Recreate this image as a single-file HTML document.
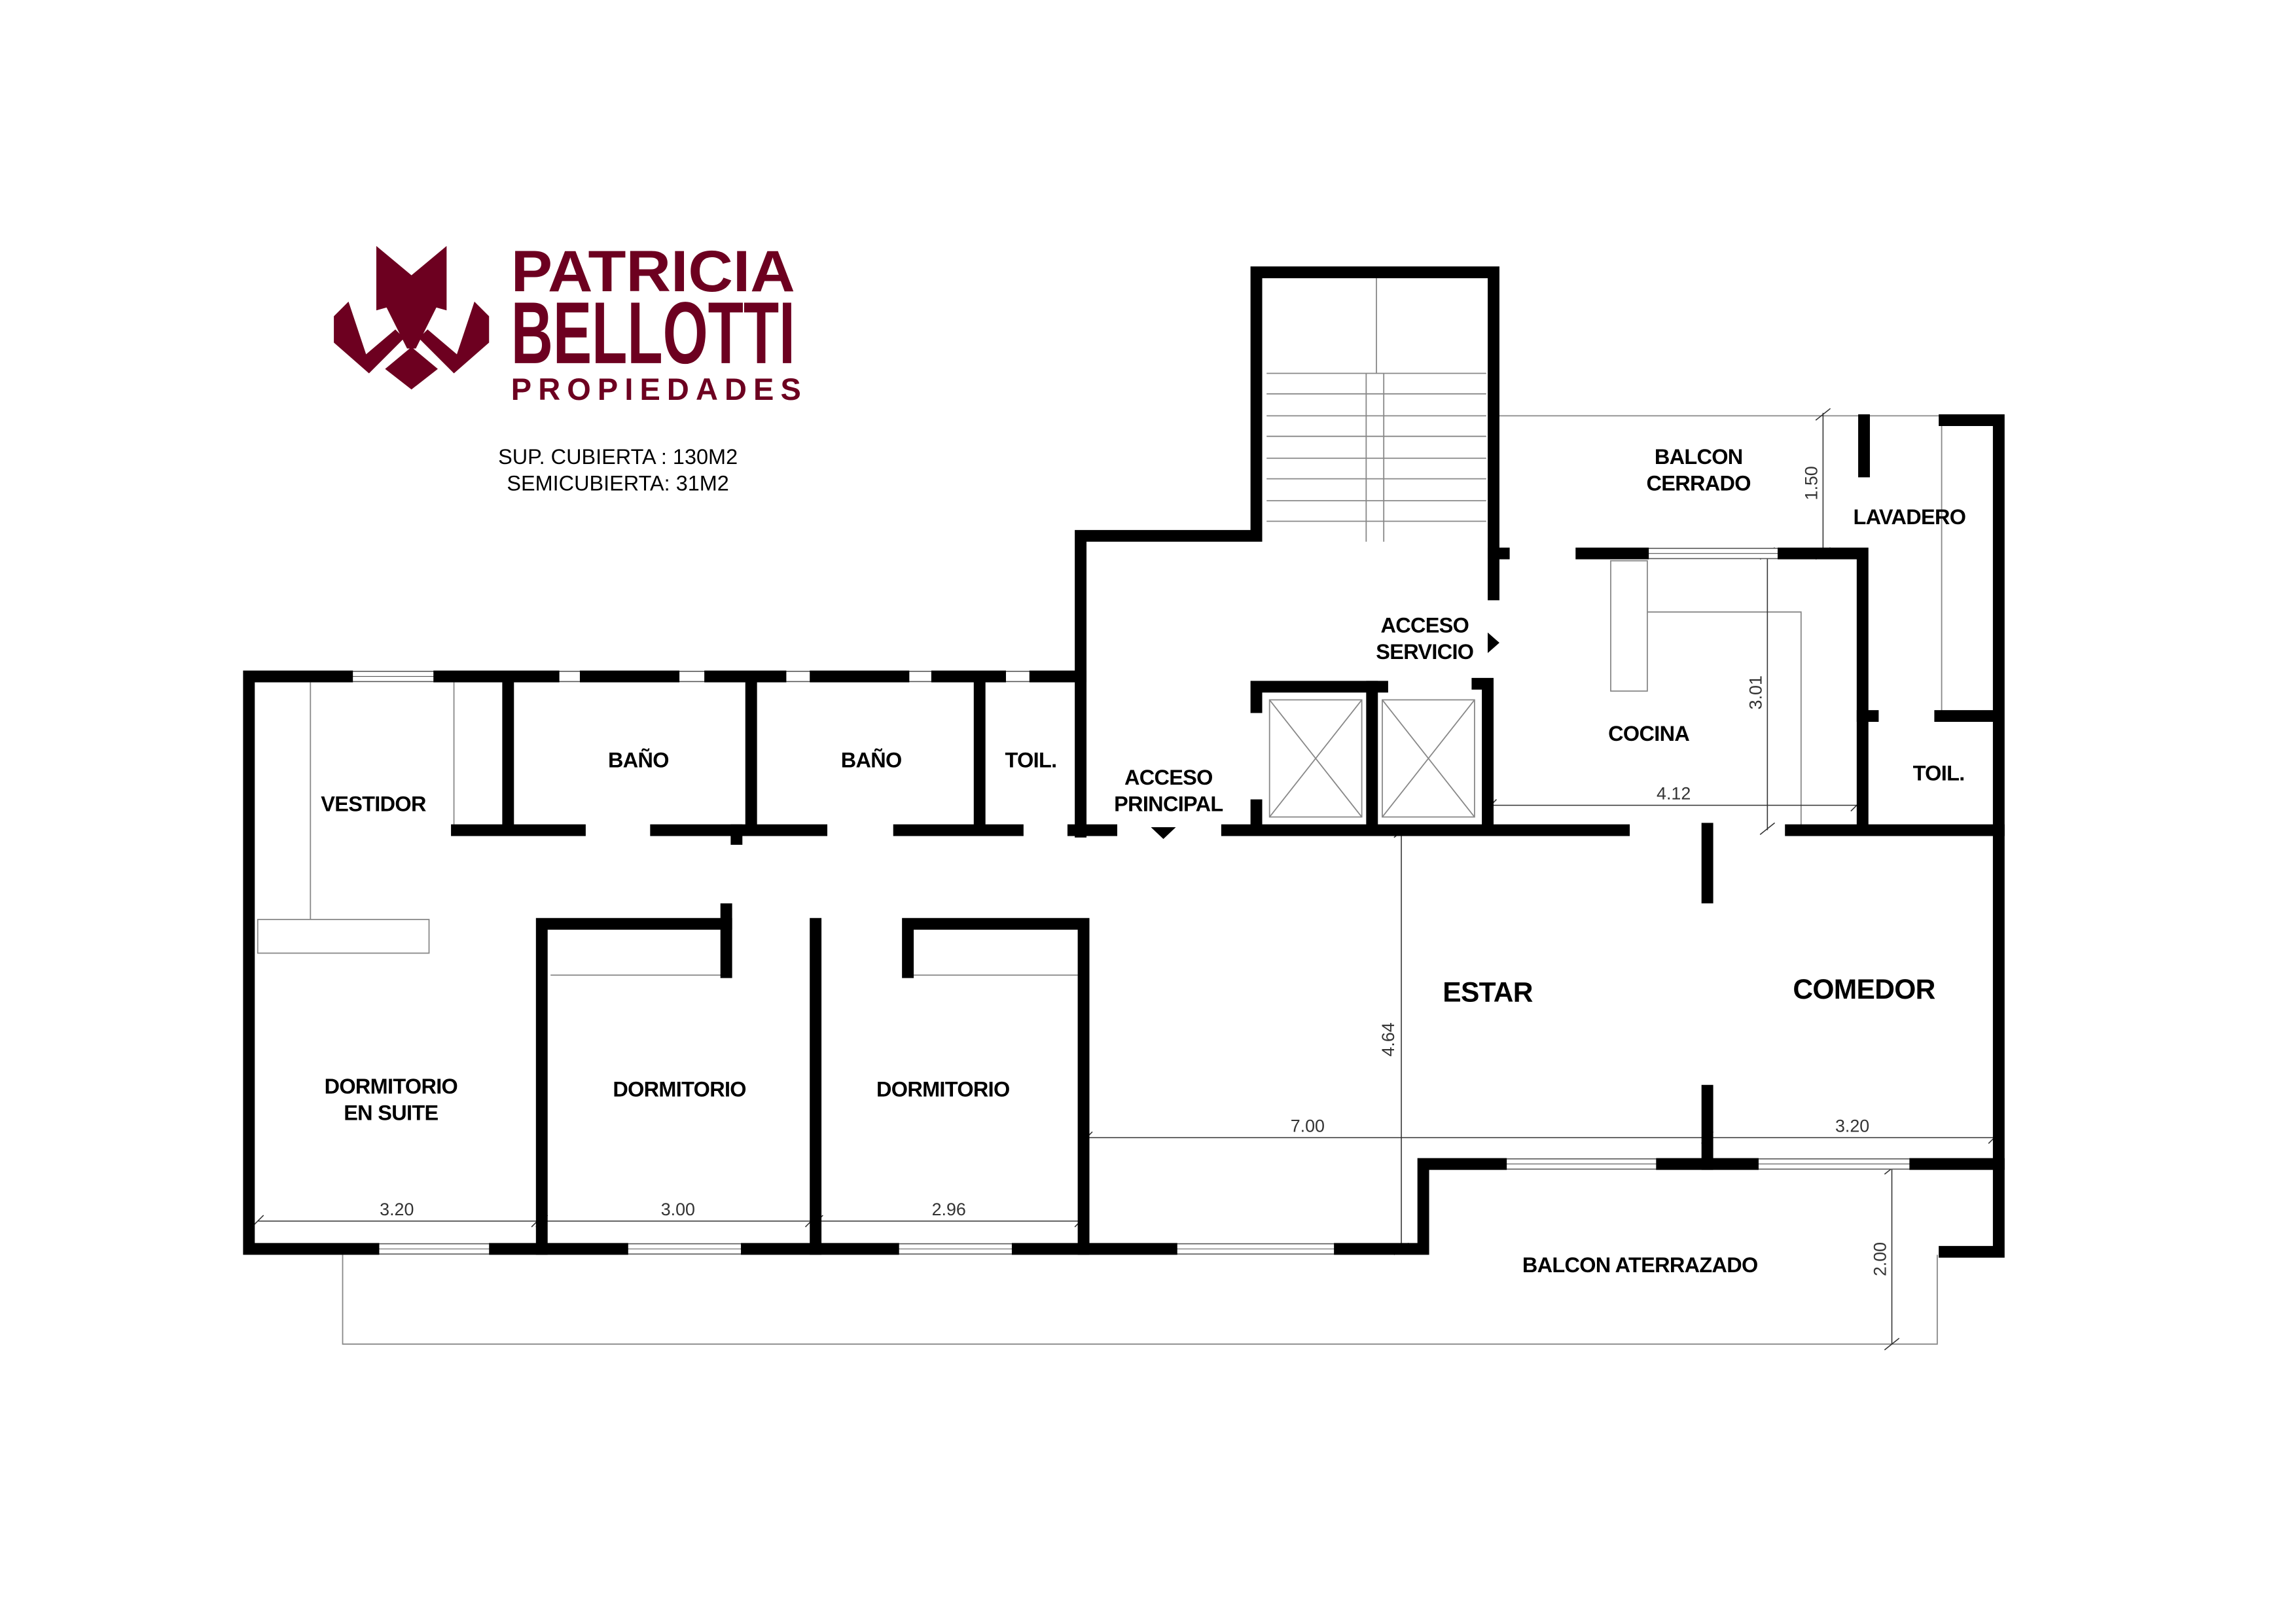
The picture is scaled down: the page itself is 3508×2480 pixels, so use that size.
<!DOCTYPE html>
<html><head><meta charset="utf-8"><style>
html,body{margin:0;padding:0;background:#fff;}
svg{display:block;}
text{font-family:"Liberation Sans","DejaVu Sans",sans-serif;}
</style></head><body>
<svg width="3508" height="2480" viewBox="0 0 1568 1108.5" xmlns="http://www.w3.org/2000/svg">
<rect x="0" y="0" width="1568" height="1108.5" fill="#fff"/>
<!-- LOGO -->
<g fill="#6d0020">
<path d="M257,168 L281,188 L305,168 L305,212 L298,210 L284,238 L278,238 L264,210 L257,212 Z"/>
<path d="M238,206 L250,242 L270,225 L276,231 L252,255 L228,234 L228,216 Z"/>
<path d="M324,206 L312,242 L292,225 L286,231 L310,255 L334,234 L334,216 Z"/>
<path d="M281,237 L299,252 L281,266 L263,252 Z"/>
<text x="349" y="199" font-size="40" font-weight="bold" textLength="194" lengthAdjust="spacingAndGlyphs">PATRICIA</text>
<text x="349" y="248" font-size="60" font-weight="bold" textLength="194" lengthAdjust="spacingAndGlyphs">BELLOTTI</text>
<text x="349" y="273" font-size="21" font-weight="bold" textLength="198" lengthAdjust="spacing">PROPIEDADES</text>
</g>
<g font-size="14.5" text-anchor="middle" fill="#000">
<text x="422" y="317">SUP. CUBIERTA : 130M2</text>
<text x="422" y="335">SEMICUBIERTA: 31M2</text>
</g>

<g stroke="#888" stroke-width="0.8" fill="none">
<line x1="940" y1="190" x2="940" y2="255"/>
<line x1="933" y1="255" x2="933" y2="370"/><line x1="945" y1="255" x2="945" y2="370"/>
<line x1="865" y1="255" x2="1015" y2="255"/>
<line x1="865" y1="269" x2="1015" y2="269"/><line x1="865" y1="284" x2="1015" y2="284"/>
<line x1="865" y1="298" x2="1015" y2="298"/><line x1="865" y1="313" x2="1015" y2="313"/>
<line x1="865" y1="327" x2="1015" y2="327"/><line x1="865" y1="342" x2="1015" y2="342"/>
<line x1="865" y1="356" x2="1015" y2="356"/>
<line x1="212" y1="466" x2="212" y2="628"/><line x1="310" y1="466" x2="310" y2="563"/>
<rect x="176" y="628" width="117" height="23"/>
<line x1="376" y1="666" x2="494" y2="666"/><line x1="624" y1="666" x2="736" y2="666"/>
<rect x="867" y="478" width="63" height="80"/><line x1="867" y1="478" x2="930" y2="558"/><line x1="930" y1="478" x2="867" y2="558"/>
<rect x="944" y="478" width="63" height="80"/><line x1="944" y1="478" x2="1007" y2="558"/><line x1="1007" y1="478" x2="944" y2="558"/>
<rect x="1100" y="383" width="25" height="89"/>
<polyline points="1125,418 1230,418 1230,565"/>
<line x1="1022" y1="284" x2="1330" y2="284"/>
<line x1="1326" y1="290" x2="1326" y2="487"/>
<polyline points="234,857 234,918 1323,918 1323,857"/>
</g>
<g stroke="#333" stroke-width="0.7" fill="none">
<line x1="1245" y1="282" x2="1245" y2="378"/><line x1="1240" y1="287" x2="1250" y2="279"/><line x1="1240" y1="382" x2="1250" y2="374"/>
<line x1="1207" y1="378" x2="1207" y2="567"/><line x1="1202" y1="382" x2="1212" y2="374"/><line x1="1202" y1="570" x2="1212" y2="562"/>
<line x1="1018" y1="550" x2="1270" y2="550"/><line x1="1014" y1="554" x2="1022" y2="546"/><line x1="1264" y1="554" x2="1272" y2="546"/>
<line x1="957" y1="568" x2="957" y2="853"/><line x1="952" y1="572" x2="962" y2="564"/><line x1="952" y1="857" x2="962" y2="849"/>
<line x1="742" y1="777" x2="1362" y2="777"/><line x1="738" y1="781" x2="746" y2="773"/><line x1="1162" y1="781" x2="1170" y2="773"/><line x1="1358" y1="781" x2="1366" y2="773"/>
<line x1="1292" y1="797" x2="1292" y2="918"/><line x1="1287" y1="802" x2="1297" y2="794"/><line x1="1287" y1="922" x2="1297" y2="914"/>
<line x1="176" y1="834" x2="738" y2="834"/>
<line x1="172" y1="838" x2="180" y2="830"/><line x1="363" y1="838" x2="371" y2="830"/><line x1="366" y1="838" x2="374" y2="830"/>
<line x1="550" y1="838" x2="558" y2="830"/><line x1="554" y1="838" x2="562" y2="830"/><line x1="734" y1="838" x2="742" y2="830"/>
</g>
<g font-size="12" fill="#333" text-anchor="middle">
<text x="271" y="830">3.20</text><text x="463" y="830">3.00</text><text x="648" y="830">2.96</text>
<text x="893" y="773">7.00</text><text x="1265" y="773">3.20</text><text x="1143" y="546">4.12</text>
<text transform="translate(1241,330) rotate(-90)">1.50</text>
<text transform="translate(1203,473) rotate(-90)">3.01</text>
<text transform="translate(952,710) rotate(-90)">4.64</text>
<text transform="translate(1288,860) rotate(-90)">2.00</text>
</g>

<g fill="#fff" stroke="#555" stroke-width="0.7">
<rect x="237" y="458.5" width="63" height="7"/><rect x="378" y="458.5" width="22" height="7"/>
<rect x="460" y="458.5" width="25" height="7"/><rect x="533" y="458.5" width="24" height="7"/>
<rect x="617" y="458.5" width="23" height="7"/><rect x="683" y="458.5" width="24" height="7"/>
<rect x="255" y="849.5" width="83" height="7"/><rect x="425" y="849.5" width="85" height="7"/>
<rect x="610" y="849.5" width="85" height="7"/><rect x="800" y="849.5" width="115" height="7"/>
<rect x="1025" y="791.5" width="110" height="7"/><rect x="1197" y="791.5" width="111" height="7"/>
<rect x="1122" y="374.5" width="96" height="7"/>
</g>
<g stroke="#555" stroke-width="0.5">
<line x1="237" y1="462" x2="300" y2="462"/><line x1="255" y1="853" x2="338" y2="853"/><line x1="425" y1="853" x2="510" y2="853"/>
<line x1="610" y1="853" x2="695" y2="853"/><line x1="800" y1="853" x2="915" y2="853"/><line x1="1025" y1="795" x2="1135" y2="795"/>
<line x1="1197" y1="795" x2="1308" y2="795"/><line x1="1122" y1="378" x2="1218" y2="378"/>
</g>

<g stroke="#000" stroke-width="8" stroke-linecap="square" fill="none">
<polyline points="738,568 738,366 858,366 858,186 1020,186 1020,406"/>
<line x1="1020" y1="378" x2="1027" y2="378"/>
<polyline points="237,462 170,462 170,853 255,853"/>
<line x1="300" y1="462" x2="378" y2="462"/><line x1="400" y1="462" x2="460" y2="462"/>
<line x1="485" y1="462" x2="533" y2="462"/><line x1="557" y1="462" x2="617" y2="462"/>
<line x1="640" y1="462" x2="683" y2="462"/><line x1="707" y1="462" x2="738" y2="462"/>
<line x1="347" y1="466" x2="347" y2="565"/><line x1="513" y1="466" x2="513" y2="565"/><line x1="669" y1="466" x2="669" y2="565"/>
<line x1="312" y1="567" x2="396" y2="567"/><line x1="448" y1="567" x2="561" y2="567"/><line x1="503" y1="567" x2="503" y2="573"/>
<line x1="614" y1="567" x2="695" y2="567"/><line x1="733" y1="567" x2="759" y2="567"/>
<line x1="838" y1="567" x2="1109" y2="567"/><line x1="1223" y1="567" x2="1365" y2="567"/>
<polyline points="370,853 370,631 496,631"/><line x1="496" y1="621" x2="496" y2="664"/>
<line x1="557" y1="631" x2="557" y2="853"/>
<polyline points="620,664 620,631 740,631 740,853"/>
<line x1="338" y1="853" x2="425" y2="853"/><line x1="510" y1="853" x2="610" y2="853"/>
<line x1="695" y1="853" x2="800" y2="853"/>
<polyline points="915,853 972,853 972,795 1025,795"/>
<line x1="1135" y1="795" x2="1197" y2="795"/><line x1="1308" y1="795" x2="1365" y2="795"/>
<polyline points="1328,855 1365,855 1365,287 1328,287"/>
<line x1="1166" y1="745" x2="1166" y2="795"/><line x1="1166" y1="566" x2="1166" y2="613"/>
<polyline points="858,483 858,469 944,469"/><line x1="858" y1="550" x2="858" y2="567"/>
<line x1="937" y1="469" x2="937" y2="567"/>
<polyline points="1009,467 1016,467 1016,567"/>
<line x1="1080" y1="378" x2="1122" y2="378"/>
<polyline points="1218,378 1272,378 1272,567"/>
<line x1="1272" y1="489" x2="1279" y2="489"/>
<line x1="1273" y1="287" x2="1273" y2="322"/>
<line x1="1325" y1="489" x2="1362" y2="489"/>
</g>
<path d="M1016,432 L1024,439 L1016,446 Z" fill="#000"/>
<path d="M786,565 L803,565 L794.5,573 Z" fill="#000"/>

<g font-size="14.5" font-weight="bold" text-anchor="middle" fill="#000" letter-spacing="-0.3">
<text x="1160" y="317">BALCON</text><text x="1160" y="335">CERRADO</text>
<text x="1304" y="358">LAVADERO</text>
<text x="973" y="432">ACCESO</text><text x="973" y="450">SERVICIO</text>
<text x="1126" y="506">COCINA</text>
<text x="1324" y="533">TOIL.</text>
<text x="255" y="554">VESTIDOR</text>
<text x="436" y="524">BAÑO</text><text x="595" y="524">BAÑO</text><text x="704" y="524">TOIL.</text>
<text x="798" y="536">ACCESO</text><text x="798" y="554">PRINCIPAL</text>
<text x="267" y="747">DORMITORIO</text><text x="267" y="765">EN SUITE</text>
<text x="464" y="749">DORMITORIO</text><text x="644" y="749">DORMITORIO</text>
<text x="1120" y="869">BALCON ATERRAZADO</text>
<text x="1016" y="684" font-size="19">ESTAR</text>
<text x="1273" y="682" font-size="19">COMEDOR</text>
</g>
</svg>
</body></html>
